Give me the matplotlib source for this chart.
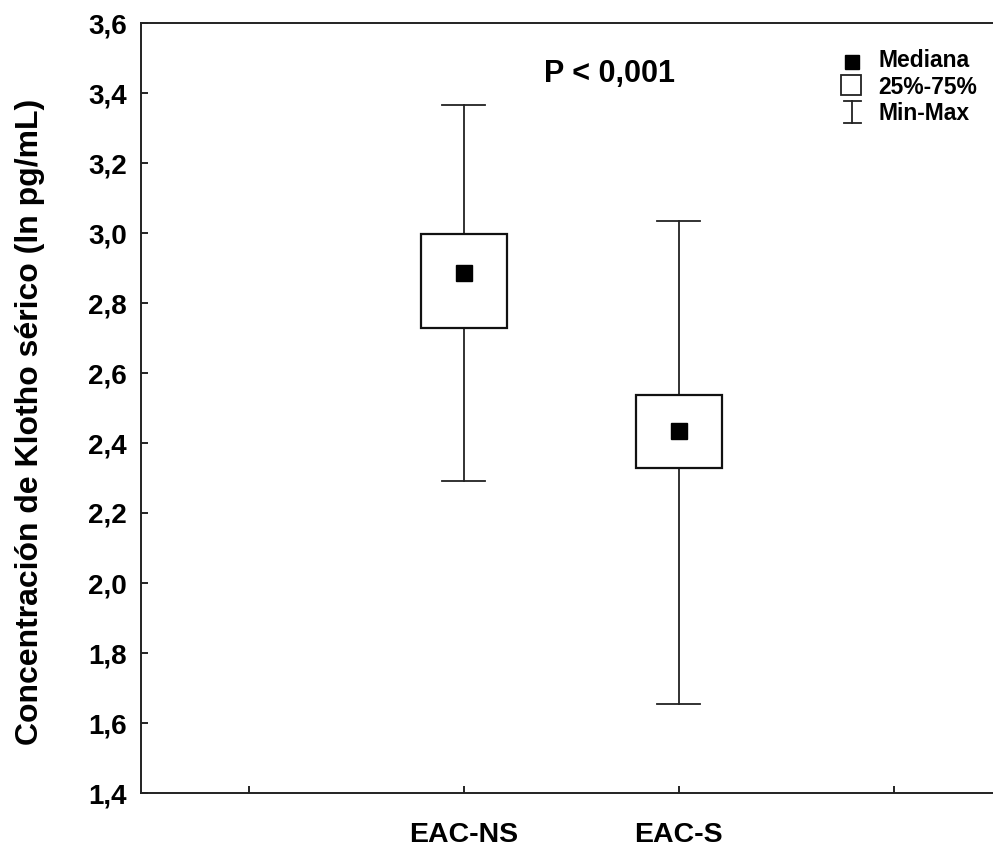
import matplotlib
matplotlib.use('Agg')
import matplotlib.pyplot as plt
from matplotlib.patches import Rectangle

plt.rcParams['font.family'] = ['Liberation Sans', 'DejaVu Sans']
plt.rcParams['font.weight'] = 'bold'

# datos
groups = ['EAC-NS', 'EAC-S']
positions = [2, 3]
medians = [2.885, 2.435]
q25 = [2.728, 2.329]
q75 = [2.997, 2.537]
mins = [2.292, 1.653]
maxs = [3.365, 3.034]
yticks = [1.4, 1.6, 1.8, 2.0, 2.2, 2.4, 2.6, 2.8, 3.0, 3.2, 3.4, 3.6]
xticks = [1, 2, 3, 4]
xlabels = ['', 'EAC-NS', 'EAC-S', '']

fig = plt.figure(figsize=(9.93, 8.51), dpi=100)
ax = fig.add_axes([141 / 993, 58 / 851, 860 / 993, 770 / 851])
ax.set_xlim(0.5, 4.5)
ax.set_ylim(1.4, 3.6)

lw_box = 1.6
lw_wh = 1.3
for i in range(len(groups)):
    x = positions[i]
    # bigotes
    ax.plot([x, x], [mins[i], q25[i]], color='#222222', lw=lw_wh, zorder=1)
    ax.plot([x, x], [q75[i], maxs[i]], color='#222222', lw=lw_wh, zorder=1)
    ax.plot([x - 0.1, x + 0.1], [mins[i], mins[i]], color='#222222', lw=lw_wh)
    ax.plot([x - 0.1, x + 0.1], [maxs[i], maxs[i]], color='#222222', lw=lw_wh)
    # caja 25%-75%
    ax.add_patch(Rectangle((x - 0.2, q25[i]), 0.4, q75[i] - q25[i],
                           facecolor='white', edgecolor='#111111', lw=lw_box, zorder=2))
    # mediana
    ax.plot(x, medians[i], marker='s', color='black', markersize=11, zorder=3)

ax.set_xticks(xticks)
ax.set_xticklabels(xlabels, fontsize=20.5, fontweight='bold')
ax.set_yticks(yticks)
ax.set_yticklabels([('%.1f' % v).replace('.', ',') for v in yticks],
                   fontsize=20, fontweight='bold')
ax.tick_params(axis='both', direction='in', length=5, width=1.2)
ax.tick_params(axis='x', pad=21)
ax.tick_params(axis='y', pad=10)
ax.spines['right'].set_visible(False)
for s in ['left', 'bottom', 'top']:
    ax.spines[s].set_linewidth(1.4)
    ax.spines[s].set_color('#222222')

ax.set_ylabel('Concentración de Klotho sérico (ln pg/mL)', fontsize=23,
              fontweight='bold', va='center')
ax.yaxis.set_label_coords(-0.129, 0.482)

ax.text(2.677, 3.454, 'P < 0,001', fontsize=22, fontweight='bold',
        ha='center', va='center')

# leyenda
tr = ax.transAxes
ax.plot(0.827, 0.949, marker='s', color='black', markersize=10, transform=tr, clip_on=False)
ax.plot(0.825, 0.919, marker='s', markerfacecolor='white', markeredgecolor='#222222',
        markeredgewidth=1.3, markersize=14, transform=tr, clip_on=False)
ax.plot([0.827, 0.827], [0.870, 0.899], color='#222222', lw=1.3, transform=tr)
ax.plot([0.817, 0.837], [0.870, 0.870], color='#222222', lw=1.3, transform=tr)
ax.plot([0.817, 0.837], [0.899, 0.899], color='#222222', lw=1.3, transform=tr)
ax.text(0.857, 0.951, 'Mediana', fontsize=16.5, fontweight='bold', va='center', transform=tr)
ax.text(0.857, 0.916, '25%-75%', fontsize=16.5, fontweight='bold', va='center', transform=tr)
ax.text(0.857, 0.882, 'Min-Max', fontsize=16.5, fontweight='bold', va='center', transform=tr)

fig.savefig('out.png', dpi=100)
